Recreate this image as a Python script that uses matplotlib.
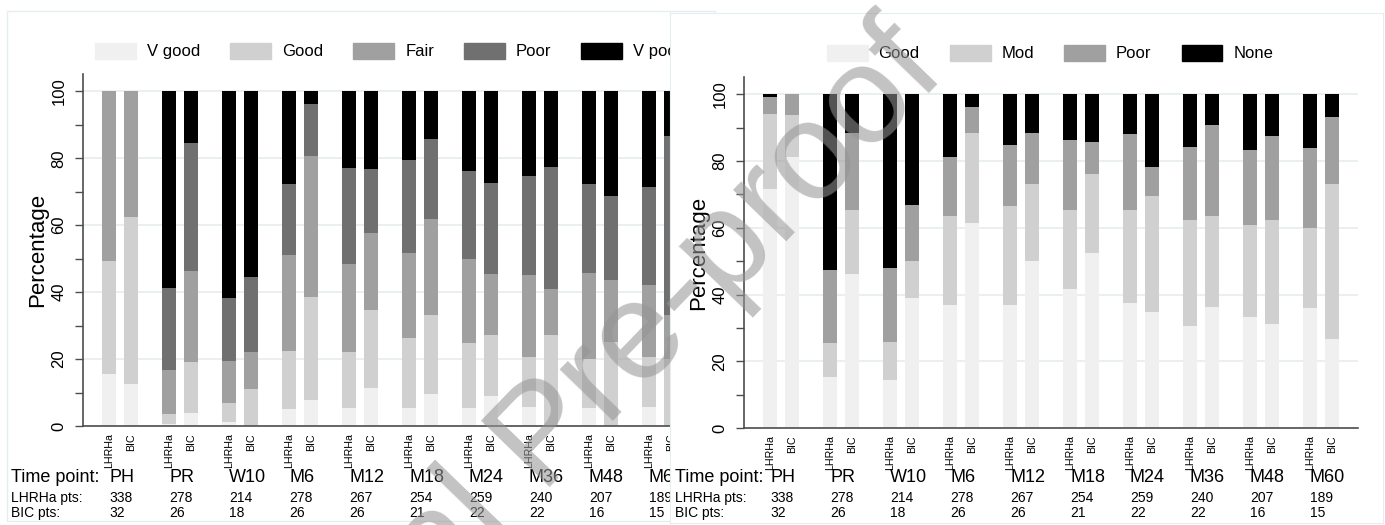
import numpy as np
import matplotlib
matplotlib.use('Agg')
import matplotlib.pyplot as plt
import matplotlib.transforms as mtransforms
from matplotlib.patches import Patch, Rectangle

plt.rcParams['font.family'] = ['Liberation Sans', 'DejaVu Sans']

time_points = ['PH', 'PR', 'W10', 'M6', 'M12', 'M18', 'M24', 'M36', 'M48', 'M60']
lhrha_pts = [338, 278, 214, 278, 267, 254, 259, 240, 207, 189]
bic_pts = [32, 26, 18, 26, 26, 21, 22, 22, 16, 15]
arms = ['LHRHa', 'BIC']

# left chart: % of patients per category at each time point
cats_left = ['V good', 'Good', 'Fair', 'Poor', 'V poor']
l_lhrha_vgood = [15.5, 0.7, 1.3, 5.0, 5.5, 5.5, 5.3, 5.8, 5.3, 5.8]
l_lhrha_good = [33.7, 2.8, 5.6, 17.5, 16.7, 20.9, 19.4, 14.7, 14.7, 14.8]
l_lhrha_fair = [50.8, 13.2, 12.6, 28.6, 26.3, 25.4, 25.1, 24.5, 25.7, 21.6]
l_lhrha_poor = [0, 24.6, 18.8, 21.1, 28.5, 27.8, 26.3, 29.6, 26.6, 29.1]
l_lhrha_vpoor = [0, 58.7, 61.7, 27.8, 23.0, 20.4, 23.9, 25.4, 27.7, 28.7]

l_bic_vgood = [12.5, 3.8, 0, 7.7, 11.5, 9.5, 9.1, 0, 0, 0]
l_bic_good = [50.0, 15.4, 11.1, 30.8, 23.1, 23.8, 18.2, 27.3, 25.0, 20.0]
l_bic_fair = [37.5, 27.0, 11.1, 42.3, 23.1, 28.6, 18.2, 13.6, 18.75, 13.3]
l_bic_poor = [0, 38.4, 22.2, 15.4, 19.2, 23.8, 27.2, 36.4, 25.0, 53.4]
l_bic_vpoor = [0, 15.4, 55.6, 3.8, 23.1, 14.3, 27.3, 22.7, 31.25, 13.3]

# right chart
cats_right = ['Good', 'Mod', 'Poor', 'None']
r_lhrha_good = [71.5, 15.3, 14.5, 36.8, 36.8, 41.7, 37.4, 30.5, 33.2, 35.9]
r_lhrha_mod = [22.7, 10.2, 11.3, 26.7, 29.7, 23.5, 27.8, 31.7, 27.5, 24.1]
r_lhrha_poor = [4.9, 22.0, 22.2, 17.7, 18.3, 21.0, 22.8, 22.0, 22.7, 23.8]
r_lhrha_none = [0.9, 52.5, 52.0, 18.8, 15.2, 13.8, 12.0, 15.8, 16.6, 16.2]

r_bic_good = [81.3, 46.2, 38.9, 61.5, 50.0, 52.4, 34.8, 36.2, 31.1, 26.6]
r_bic_mod = [12.5, 19.2, 11.1, 27.0, 23.1, 23.8, 34.6, 27.2, 31.1, 46.6]
r_bic_poor = [6.2, 23.1, 16.7, 7.7, 15.4, 9.5, 8.8, 27.4, 25.2, 20.0]
r_bic_none = [0, 11.5, 33.3, 3.8, 11.5, 14.3, 21.8, 9.2, 12.6, 6.8]

# stata gs15 / gs13 / gs10 / gs7 / black
colors_left = ['#f0f0f0', '#d0d0d0', '#a0a0a0', '#707070', '#000000']
colors_right = ['#f0f0f0', '#d0d0d0', '#a0a0a0', '#000000']

W, H = 1385, 525
fig = plt.figure(figsize=(W / 100, H / 100), dpi=100)


def px_box(x0, y0, x1, y1):
    # pixel box measured from top-left -> figure fraction rect
    return [x0 / W, 1 - y1 / H, (x1 - x0) / W, (y1 - y0) / H]


OFF = 0.183
BW = 0.225
AXC = '#4d4d4d'


def panel(ax, cats, colors, lhrha, bic, legend_center, row_x):
    x = np.arange(len(time_points))
    for vals, dx in ((lhrha, -OFF), (bic, OFF)):
        bottom = np.zeros(len(x))
        for v, c in zip(vals, colors):
            v = np.array(v, dtype=float)
            ax.bar(x + dx, v, BW, bottom=bottom, color=c, lw=0, zorder=2)
            bottom += v

    ax.set_xlim(-0.62, 9.62)
    ax.set_ylim(0, 105.2)
    ticks = np.ravel(np.column_stack([x - OFF, x + OFF]))
    ax.set_xticks(ticks)
    ax.set_xticklabels(arms * len(x), rotation=90, fontsize=7.7, va='top')
    ax.tick_params(axis='x', length=0, pad=5)

    ax.set_yticks(range(0, 101, 20))
    ax.set_yticks(range(10, 100, 20), minor=True)
    ax.tick_params(axis='y', which='both', length=6, width=1, color=AXC,
                   labelsize=12, pad=6)
    plt.setp(ax.get_yticklabels(), rotation=90, va='center')
    ax.yaxis.grid(True, color='#e6eef0', lw=1.2)
    ax.set_axisbelow(True)
    for s in ('top', 'right'):
        ax.spines[s].set_visible(False)
    for s in ('left', 'bottom'):
        ax.spines[s].set_color(AXC)
        ax.spines[s].set_linewidth(1.2)
    ax.set_ylabel('Percentage', fontsize=16)
    ax.yaxis.set_label_coords(-0.056, 0.5)

    handles = [Patch(facecolor=c, edgecolor=c) for c in colors]
    ax.legend(handles, cats, loc='center', ncol=len(cats), frameon=False,
              bbox_to_anchor=(legend_center[0] / W, 1 - legend_center[1] / H),
              bbox_transform=fig.transFigure, fontsize=12, handlelength=2.45,
              handleheight=1.1, handletextpad=0.66, columnspacing=1.8,
              borderaxespad=0, borderpad=0)

    # patient numbers under the axis
    trans = mtransforms.blended_transform_factory(ax.transData, fig.transFigure)
    rows = [('Time point:', time_points, 478, 13),
            ('LHRHa pts:', lhrha_pts, 498, 10),
            ('BIC pts:', bic_pts, 513, 10)]
    for title, vals, y, fs in rows:
        ax.text(row_x / W, 1 - y / H, title, transform=fig.transFigure,
                ha='left', va='center', fontsize=fs)
        for xi, v in zip(x, vals):
            ax.text(xi - OFF, 1 - y / H, str(v), transform=trans,
                    ha='left', va='center', fontsize=fs)


# outer frame of the left graph
fig.add_artist(Rectangle((7 / W, 1 - 521 / H), 708 / W, 510 / H,
                         transform=fig.transFigure, facecolor='white',
                         edgecolor='#e6edf0', lw=1, zorder=0))

ax1 = fig.add_axes(px_box(83, 74, 697, 426), zorder=1)
ax1.patch.set_alpha(0)
panel(ax1, cats_left, colors_left,
      [l_lhrha_vgood, l_lhrha_good, l_lhrha_fair, l_lhrha_poor, l_lhrha_vpoor],
      [l_bic_vgood, l_bic_good, l_bic_fair, l_bic_poor, l_bic_vpoor],
      (389, 51), 11)

# right graph sits on top of the left one
bg = fig.add_axes(px_box(670, 13, 1383, 523), zorder=5)
bg.set_xticks([])
bg.set_yticks([])
bg.set_facecolor('white')
for s in bg.spines.values():
    s.set_color('#e6edf0')

ax2 = fig.add_axes(px_box(744, 77, 1358, 428), zorder=6)
ax2.patch.set_alpha(0)
panel(ax2, cats_right, colors_right,
      [r_lhrha_good, r_lhrha_mod, r_lhrha_poor, r_lhrha_none],
      [r_bic_good, r_bic_mod, r_bic_poor, r_bic_none],
      (1050, 53), 675)

fig.text(546 / W, 1 - 439 / H, 'Journal Pre-proof', fontsize=101, rotation=46,
         ha='center', va='center', rotation_mode='anchor', color='#959595',
         alpha=0.57, zorder=20)

fig.savefig('out.png', dpi=100)
